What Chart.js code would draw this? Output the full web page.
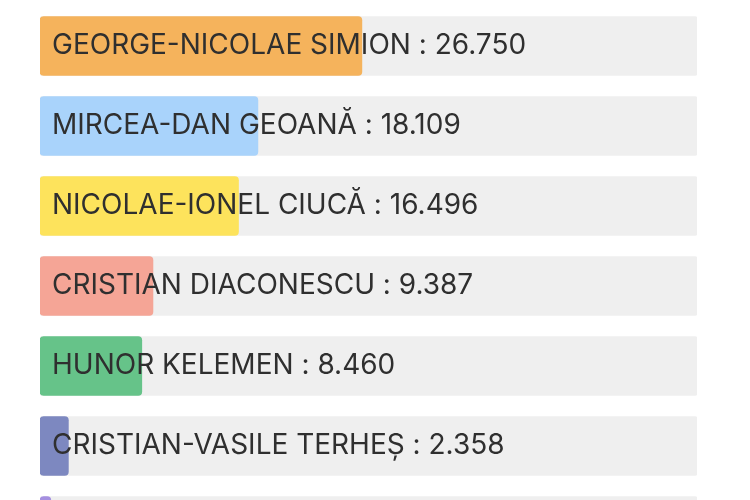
<!DOCTYPE html>
<html>
<head>
<meta charset="utf-8">
<script src="https://cdn.jsdelivr.net/npm/chart.js@4.4.1/dist/chart.umd.min.js"></script>
<style>
  html, body { margin: 0; padding: 0; background: #ffffff; overflow: hidden; width: 750px; height: 500px; }
  #wrap { position: absolute; left: 0; top: 0; width: 750px; height: 566px; }
</style>
</head>
<body>
<div id="wrap"><canvas id="c" width="750" height="566"></canvas></div>
<script>
const candidates = [
  "GEORGE-NICOLAE SIMION",
  "MIRCEA-DAN GEOANĂ",
  "NICOLAE-IONEL CIUCĂ",
  "CRISTIAN DIACONESCU",
  "HUNOR KELEMEN",
  "CRISTIAN-VASILE TERHEȘ",
  ""
];
const votes = [26750, 18109, 16496, 9387, 8460, 2358, 900];
const barColors = ["#f5b35c", "#a9d3fb", "#fde35c", "#f5a596", "#66c389", "#7d88c0", "#a58fe0"];
const scaleMax = 54600;
const trackValues = candidates.map(() => scaleMax);

function fmt(n) {
  return String(n).replace(/\B(?=(\d{3})+(?!\d))/g, ".");
}

const labelPlugin = {
  id: "insideLabels",
  afterDatasetsDraw(chart) {
    const ctx = chart.ctx;
    const meta = chart.getDatasetMeta(1);
    const x0 = chart.scales.x.getPixelForValue(0);
    ctx.save();
    ctx.fillStyle = "#2f2f2f";
    ctx.textBaseline = "middle";
    ctx.textAlign = "left";
    ctx.font = "28px Inter";
    meta.data.forEach((bar, i) => {
      if (!candidates[i]) return;
      ctx.fillText(candidates[i] + " : " + fmt(votes[i]), x0 + 12, bar.y);
    });
    ctx.restore();
  }
};

new Chart(document.getElementById("c"), {
  type: "bar",
  data: {
    labels: candidates,
    datasets: [
      {
        data: trackValues,
        backgroundColor: "#efefef",
        borderRadius: 2,
        borderSkipped: false,
        barThickness: 59,
        grouped: false,
        order: 2
      },
      {
        data: votes,
        backgroundColor: barColors,
        borderRadius: 4,
        borderSkipped: false,
        barThickness: 59,
        grouped: false,
        order: 1
      }
    ]
  },
  options: {
    indexAxis: "y",
    responsive: false,
    animation: false,
    layout: { padding: { left: 40, right: 53, top: 6, bottom: 0 } },
    plugins: { legend: { display: false }, tooltip: { enabled: false } },
    scales: {
      x: { display: false, min: 0, max: scaleMax },
      y: { display: false }
    }
  },
  plugins: [labelPlugin]
});
</script>
</body>
</html>
